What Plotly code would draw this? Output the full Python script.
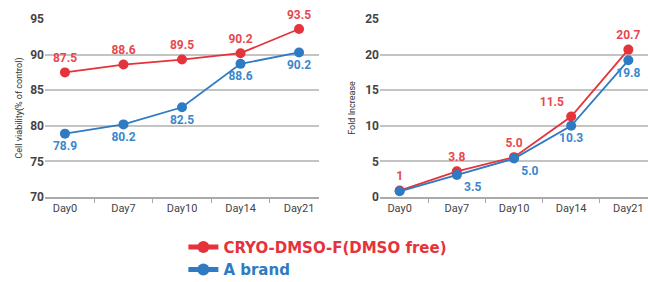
import plotly.graph_objects as go

days = ["Day0", "Day7", "Day10", "Day14", "Day21"]

# Left panel: cell viability (% of control)
via_cryo = [87.5, 88.6, 89.3, 90.2, 93.6]
via_cryo_txt = ["87.5", "88.6", "89.5", "90.2", "93.5"]
via_a = [78.9, 80.2, 82.6, 88.7, 90.3]
via_a_txt = ["78.9", "80.2", "82.5", "88.6", "90.2"]

# Right panel: fold increase
fold_cryo = [0.9, 3.6, 5.6, 11.3, 20.7]
fold_cryo_txt = ["1", "3.8", "5.0", "11.5", "20.7"]
fold_a = [0.8, 3.1, 5.4, 10.0, 19.2]
fold_a_txt = ["", "3.5", "5.0", "10.3", "19.8"]

series_names = ["CRYO-DMSO-F(DMSO free)", "A brand"]

RED = "#e5323b"
BLUE = "#2e7bc4"
RED_T = "#e9474f"
BLUE_T = "#3b87cc"

fig = go.Figure()

lab_font = dict(family="Roboto", size=12, weight="bold")

fig.add_trace(go.Scatter(
    x=days, y=via_cryo, mode="lines+markers+text",
    name=f"<span style='color:{RED}'>{series_names[0]}</span>",
    line=dict(color=RED, width=1.8), marker=dict(color=RED, size=10),
    text=via_cryo_txt, textposition="top center",
    textfont=dict(color=RED_T, **lab_font), xaxis="x", yaxis="y", cliponaxis=False))
fig.add_trace(go.Scatter(
    x=days, y=via_a, mode="lines+markers+text",
    name=f"<span style='color:{BLUE}'>{series_names[1]}</span>",
    line=dict(color=BLUE, width=1.8), marker=dict(color=BLUE, size=10),
    text=via_a_txt, textposition="bottom center",
    textfont=dict(color=BLUE_T, **lab_font), xaxis="x", yaxis="y", cliponaxis=False))

fig.add_trace(go.Scatter(
    x=days, y=fold_cryo, mode="lines+markers+text", showlegend=False,
    line=dict(color=RED, width=1.8), marker=dict(color=RED, size=10),
    text=fold_cryo_txt,
    textposition=["top center", "top center", "top center", "top left", "top center"],
    textfont=dict(color=RED_T, **lab_font), xaxis="x2", yaxis="y2", cliponaxis=False))
fig.add_trace(go.Scatter(
    x=days, y=fold_a, mode="lines+markers+text", showlegend=False,
    line=dict(color=BLUE, width=1.8), marker=dict(color=BLUE, size=10),
    text=fold_a_txt,
    textposition=["bottom right", "bottom right", "bottom right", "bottom center", "bottom center"],
    textfont=dict(color=BLUE_T, **lab_font), xaxis="x2", yaxis="y2", cliponaxis=False))

tick_font = dict(family="Roboto", size=11, color="#444444")
xcommon = dict(type="category", showgrid=False, showline=True, linecolor="#aaaaaa",
               linewidth=1.5, ticks="outside", tickson="boundaries", ticklen=4,
               tickcolor="#aaaaaa", tickfont=tick_font, fixedrange=True, automargin=False)
ycommon = dict(showgrid=True, gridcolor="#c4c4c4", gridwidth=1.5, showline=False,
               zeroline=False, tickfont=dict(family="Roboto", size=12, color="#444444", weight="bold"),
               ticks="", fixedrange=True, automargin=False)

fig.update_layout(
    width=648, height=282,
    margin=dict(l=0, r=0, t=19, b=85, autoexpand=False),
    paper_bgcolor="white", plot_bgcolor="white",
    xaxis=dict(domain=[45/648, 319/648], anchor="y", **xcommon),
    yaxis=dict(range=[70, 95], dtick=5, anchor="x",
               title=dict(text="Cell viability(% of control)", font=dict(family="Roboto", size=9, color="#333333"), standoff=6),
               **ycommon),
    xaxis2=dict(domain=[380/648, 1.0], anchor="y2", **xcommon),
    yaxis2=dict(range=[0, 25], dtick=5, anchor="x2",
                title=dict(text="Fold Increase", font=dict(family="Roboto", size=9, color="#333333"), standoff=8),
                **ycommon),
    legend=dict(x=0.283, y=-0.19, xanchor="left", yanchor="top", orientation="v",
                font=dict(family="DejaVu Sans", size=15, weight="bold"),
                tracegroupgap=0, itemsizing="constant", bgcolor="rgba(0,0,0,0)"),
    showlegend=True,
)

fig.write_html("out.html", config={"displayModeBar": False},
               post_script="document.body.style.margin='0';document.body.style.overflow='hidden';")
